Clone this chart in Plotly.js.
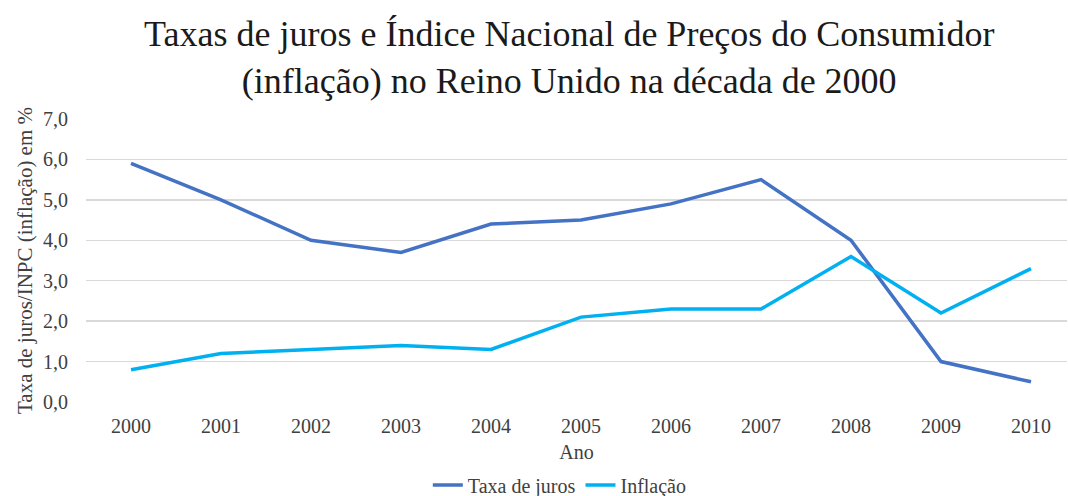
<!DOCTYPE html>
<html>
<head>
<meta charset="utf-8">
<script src="https://cdn.plot.ly/plotly-3.0.1.min.js"></script>
<style>html,body{margin:0;padding:0;background:#fff;}#chart{width:1068px;height:496px;}</style>
</head>
<body>
<div id="chart"></div>
<script>
const anos = ["2000","2001","2002","2003","2004","2005","2006","2007","2008","2009","2010"];
const taxaDeJuros = [5.9, 5.0, 4.0, 3.7, 4.4, 4.5, 4.9, 5.5, 4.0, 1.0, 0.5];
const inflacao = [0.8, 1.2, 1.3, 1.4, 1.3, 2.1, 2.3, 2.3, 3.6, 2.2, 3.3];
const yTicks = [0, 1, 2, 3, 4, 5, 6, 7];

const serif = "'Liberation Serif', 'Times New Roman', 'DejaVu Serif', serif";
const traces = [
  {x: anos, y: taxaDeJuros, type: "scatter", mode: "lines", name: "Taxa de juros",
   line: {color: "#4472C4", width: 3.5}},
  {x: anos, y: inflacao, type: "scatter", mode: "lines", name: "Inflação",
   line: {color: "#00B0F0", width: 3.5}}
];
const layout = {
  width: 1068, height: 496,
  margin: {l: 86, r: 1, t: 119, b: 94, autoexpand: false},
  paper_bgcolor: "#fff", plot_bgcolor: "#fff",
  separators: ",.",
  font: {family: serif, size: 20, color: "#404040"},
  title: {text: "Taxas de juros e Índice Nacional de Preços do Consumidor<br>(inflação) no Reino Unido na década de 2000",
          font: {family: serif, size: 36, color: "#1a1a1a"}, x: 0.533, xanchor: "center", y: 0.907, yanchor: "top"},
  xaxis: {type: "category", range: [-0.5, 10.4], showgrid: false, zeroline: false, showline: false, automargin: false,
          ticks: "", ticklabelstandoff: 10, tickfont: {family: serif, size: 20, color: "#404040"},
          title: {text: "Ano", font: {family: serif, size: 20, color: "#404040"}, standoff: 8}},
  yaxis: {range: [0, 7], tickvals: yTicks, tickformat: ".1f", showgrid: true, gridcolor: "#d9d9d9", gridwidth: 1.3,
          zeroline: false, showline: false, ticks: "", ticklen: 0, automargin: false, ticklabelstandoff: 17,
          tickfont: {family: serif, size: 20, color: "#404040"},
          title: {text: "Taxa de juros/INPC (inflação) em %", font: {family: serif, size: 21, color: "#404040"}, standoff: 4}},
  legend: {orientation: "h", x: 0.483, xanchor: "center", yref: "container", y: 0.022, yanchor: "middle",
           font: {family: serif, size: 20, color: "#404040"}, tracegroupgap: 0},
  showlegend: true
};
Plotly.newPlot("chart", traces, layout, {displayModeBar: false, staticPlot: true});
</script>
</body>
</html>
